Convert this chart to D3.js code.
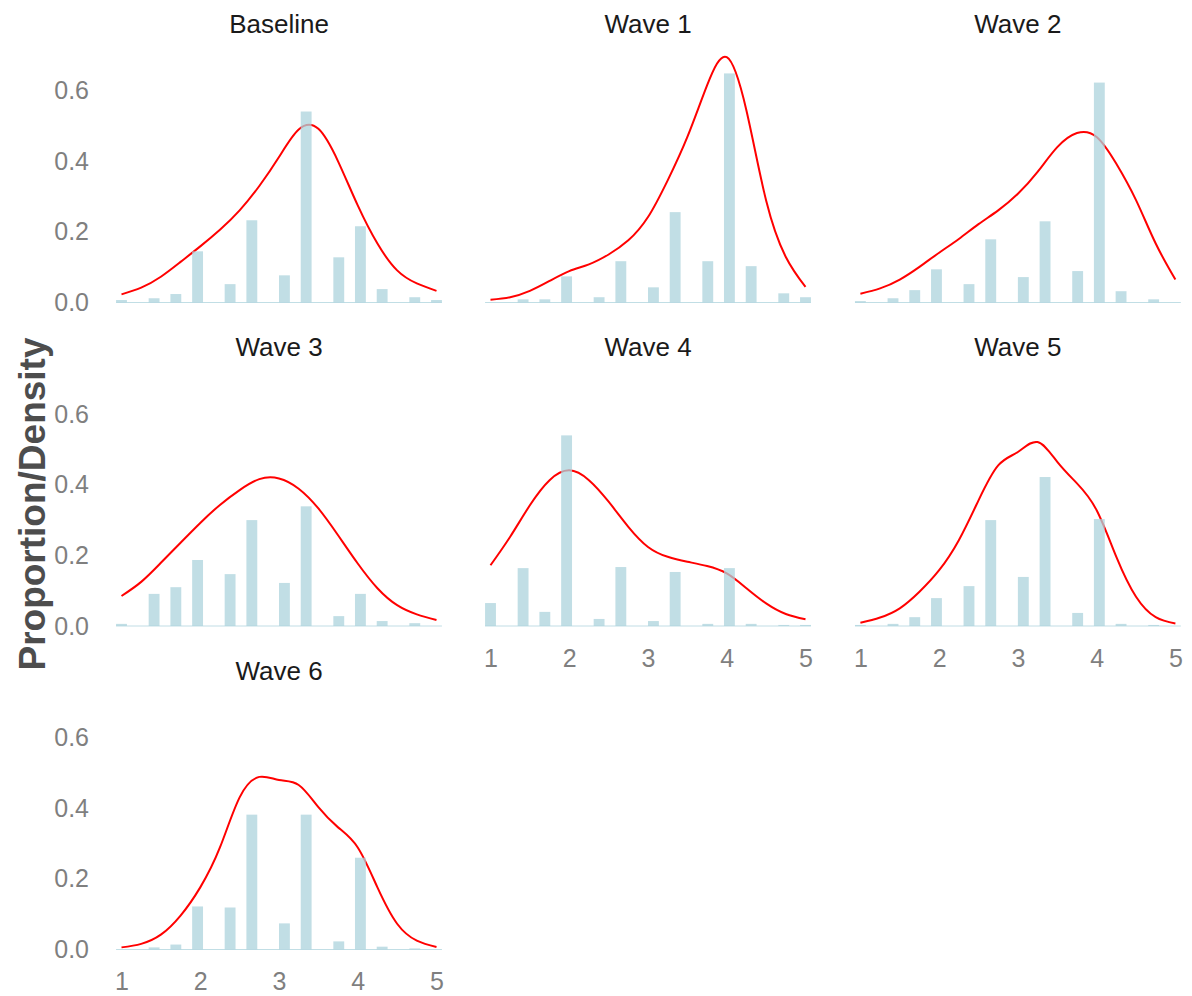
<!DOCTYPE html>
<html>
<head>
<meta charset="utf-8">
<script src="https://cdn.jsdelivr.net/npm/d3@7"></script>
<style>
  body { margin: 0; background: #fff; }
  text { font-family: "Liberation Sans", Arial, Helvetica, sans-serif; }
</style>
</head>
<body>
<div id="chart"></div>
<script>
// facet names, in plotting order
var panels = ["Baseline", "Wave 1", "Wave 2", "Wave 3", "Wave 4", "Wave 5", "Wave 6"]

// histogram bins that hold data (centres), 30 bins over 1..5
var binMid = [1, 1.414, 1.690, 1.966, 2.379, 2.655, 3.069, 3.345, 3.759, 4.034, 4.310, 4.724, 5]
var binWidth = 0.138

// proportion per bin
var propBaseline = [0.007, 0.012, 0.024, 0.145, 0.052, 0.233, 0.077, 0.541, 0.128, 0.216, 0.038, 0.015, 0.007]
var propWave1    = [0.000, 0.009, 0.009, 0.074, 0.015, 0.117, 0.043, 0.256, 0.117, 0.649, 0.103, 0.026, 0.015]
var propWave2    = [0.004, 0.012, 0.035, 0.094, 0.052, 0.179, 0.072, 0.230, 0.089, 0.623, 0.032, 0.009, 0.000]
var propWave3    = [0.006, 0.091, 0.110, 0.187, 0.147, 0.300, 0.122, 0.339, 0.028, 0.091, 0.014, 0.008, 0.000]
var propWave4    = [0.065, 0.164, 0.040, 0.540, 0.020, 0.167, 0.014, 0.153, 0.006, 0.164, 0.006, 0.003, 0.003]
var propWave5    = [0.003, 0.006, 0.025, 0.079, 0.113, 0.300, 0.139, 0.422, 0.037, 0.303, 0.006, 0.003, 0.000]
var propWave6    = [0.000, 0.006, 0.014, 0.122, 0.119, 0.382, 0.074, 0.382, 0.023, 0.260, 0.008, 0.003, 0.000]

// density curve, read at these x values
var densX = [1, 1.25, 1.5, 1.75, 2, 2.25, 2.5, 2.75, 3, 3.25, 3.5, 3.75, 4, 4.25, 4.5, 4.75, 5]
var densBaseline = [0.023, 0.042, 0.073, 0.115, 0.159, 0.206, 0.261, 0.330, 0.412, 0.490, 0.492, 0.400, 0.275, 0.167, 0.091, 0.054, 0.033]
var densWave1    = [0.008, 0.015, 0.033, 0.061, 0.089, 0.108, 0.136, 0.176, 0.242, 0.346, 0.469, 0.615, 0.695, 0.544, 0.289, 0.129, 0.044]
var densWave2    = [0.025, 0.040, 0.065, 0.101, 0.141, 0.180, 0.222, 0.261, 0.308, 0.370, 0.440, 0.480, 0.469, 0.393, 0.290, 0.167, 0.065]
var densWave3    = [0.085, 0.125, 0.179, 0.236, 0.292, 0.343, 0.385, 0.416, 0.418, 0.389, 0.333, 0.257, 0.177, 0.107, 0.059, 0.033, 0.017]
var densWave4    = [0.172, 0.253, 0.342, 0.413, 0.441, 0.413, 0.352, 0.281, 0.224, 0.196, 0.182, 0.170, 0.149, 0.107, 0.064, 0.034, 0.019]
var densWave5    = [0.009, 0.024, 0.050, 0.097, 0.158, 0.243, 0.356, 0.455, 0.493, 0.521, 0.465, 0.404, 0.328, 0.196, 0.083, 0.025, 0.007]
var densWave6    = [0.006, 0.016, 0.042, 0.096, 0.176, 0.289, 0.431, 0.489, 0.480, 0.466, 0.403, 0.346, 0.289, 0.176, 0.073, 0.025, 0.007]

var xTicks = [1, 2, 3, 4, 5]
var yTicks = [0, 0.2, 0.4, 0.6]

var props = [propBaseline, propWave1, propWave2, propWave3, propWave4, propWave5, propWave6]
var dens = [densBaseline, densWave1, densWave2, densWave3, densWave4, densWave5, densWave6]

var width = 1192
var height = 996

// left pixel of x=1 for each column, zero line for each row
var colX = [121.5, 490.5, 860.4]
var rowY = [302.5, 626, 949.5]
var xSpan = 315
var ySpan = 211.8   // pixels for 0.6

var svg = d3.select("#chart")
  .append("svg")
    .attr("width", width)
    .attr("height", height)

panels.forEach(function(name, i){
    var col = i % 3
    var row = Math.floor(i / 3)

    var x = d3.scaleLinear().domain([1, 5]).range([colX[col], colX[col] + xSpan])
    var y = d3.scaleLinear().domain([0, 0.6]).range([rowY[row], rowY[row] - ySpan])

    var g = svg.append("g")

    // density line first, bars drawn over it
    var line = d3.line()
      .x(function(d){ return x(d[0]) })
      .y(function(d){ return y(d[1]) })
      .curve(d3.curveNatural)

    g.append("path")
      .datum(d3.zip(densX, dens[i]))
      .attr("d", line)
      .attr("fill", "none")
      .attr("stroke", "#ff0000")
      .attr("stroke-width", 2)

    // zero line of the histogram (empty bins)
    g.append("line")
      .attr("x1", x(1 - binWidth / 2))
      .attr("x2", x(5 + binWidth / 2))
      .attr("y1", y(0))
      .attr("y2", y(0))
      .attr("stroke", "#acd3dc")
      .attr("stroke-opacity", 0.75)
      .attr("stroke-width", 1.2)

    g.selectAll("rect")
      .data(d3.zip(binMid, props[i]))
      .enter()
      .append("rect")
      .attr("x", function(d){ return x(d[0] - binWidth / 2) })
      .attr("width", function(d){ return x(d[0] + binWidth / 2) - x(d[0] - binWidth / 2) })
      .attr("y", function(d){ return y(d[1]) })
      .attr("height", function(d){ return y(0) - y(d[1]) })
      .attr("fill", "#acd3dc")
      .attr("fill-opacity", 0.75)

    // facet title
    svg.append("text")
      .attr("x", x(3))
      .attr("y", rowY[row] - 279)
      .attr("text-anchor", "middle")
      .attr("dominant-baseline", "central")
      .attr("font-size", 26)
      .attr("fill", "#1a1a1a")
      .text(name)

    if (col == 0) {
      svg.append("g")
        .attr("transform", "translate(95,0)")
        .call(d3.axisLeft(y).tickValues(yTicks).tickSize(0).tickPadding(6).tickFormat(d3.format(".1f")))
        .call(function(a){ a.select(".domain").remove() })
        .selectAll("text")
          .attr("font-size", 25)
          .attr("fill", "#7f7f7f")
          .attr("font-family", null)
    }

    // x axis only on the lowest panel of each column
    if (i >= 4) {
      svg.append("g")
        .attr("transform", "translate(0," + rowY[row] + ")")
        .call(d3.axisBottom(x).tickValues(xTicks).tickSize(0).tickPadding(23).tickFormat(d3.format("d")))
        .call(function(a){ a.select(".domain").remove() })
        .selectAll("text")
          .attr("font-size", 25)
          .attr("fill", "#7f7f7f")
          .attr("font-family", null)
    }
})

svg.append("text")
  .attr("transform", "translate(32,504) rotate(-90)")
  .attr("text-anchor", "middle")
  .attr("dominant-baseline", "central")
  .attr("font-size", 37)
  .attr("font-weight", "bold")
  .attr("fill", "#4d4d4d")
  .text("Proportion/Density")
</script>
</body>
</html>
